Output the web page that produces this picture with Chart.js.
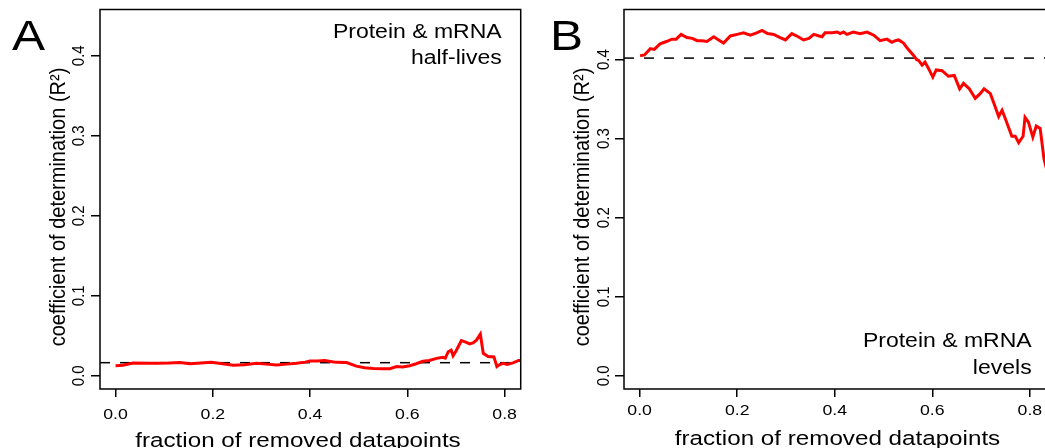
<!DOCTYPE html>
<html>
<head>
<meta charset="utf-8">
<script src="https://cdn.jsdelivr.net/npm/chart.js@4/dist/chart.umd.min.js"></script>
<style>
  html, body { margin: 0; padding: 0; background: #fff; overflow: hidden; width: 1045px; height: 448px; }
  canvas { position: absolute; top: 0; }
  #chartA { left: 0; }
  #chartB { left: 522px; }
</style>
</head>
<body>
<canvas id="chartA" width="522" height="448"></canvas>
<canvas id="chartB" width="528" height="448"></canvas>
<script>
// data
const xTicks = [0, 0.2, 0.4, 0.6, 0.8];
const yTicks = [0, 0.1, 0.2, 0.3, 0.4];

const fracA = [0.000, 0.015, 0.036, 0.060, 0.084, 0.110, 0.132, 0.153, 0.175, 0.197,
  0.220, 0.242, 0.265, 0.290, 0.310, 0.331, 0.352, 0.372, 0.390, 0.400,
  0.415, 0.430, 0.445, 0.454, 0.475, 0.495, 0.512, 0.530, 0.548, 0.564,
  0.578, 0.590, 0.605, 0.618, 0.632, 0.645, 0.660, 0.673, 0.678, 0.684,
  0.690, 0.694, 0.700, 0.711, 0.720, 0.728, 0.735, 0.742, 0.750, 0.753,
  0.756, 0.766, 0.778, 0.784, 0.790, 0.797, 0.805, 0.817, 0.823, 0.828, 0.834];
const r2A = [0.0125, 0.0130, 0.0160, 0.0155, 0.0155, 0.0158, 0.0165, 0.0150, 0.0158, 0.0167,
  0.0150, 0.0130, 0.0138, 0.0155, 0.0145, 0.0135, 0.0145, 0.0155, 0.0170, 0.0183,
  0.0185, 0.0190, 0.0175, 0.0167, 0.0165, 0.0120, 0.0100, 0.0090, 0.0088, 0.0087,
  0.0114, 0.0110, 0.0125, 0.0150, 0.0180, 0.0190, 0.0217, 0.0230, 0.0220, 0.0300,
  0.0320, 0.0250, 0.0310, 0.0438, 0.0420, 0.0398, 0.0410, 0.0445, 0.0520, 0.0400,
  0.0280, 0.0240, 0.0235, 0.0115, 0.0140, 0.0155, 0.0140, 0.0160, 0.0175, 0.0190, 0.0190];
const baseA = 0.0163;

const fracB = [0.001, 0.010, 0.022, 0.030, 0.042, 0.055, 0.066, 0.075, 0.085, 0.097,
  0.108, 0.118, 0.128, 0.138, 0.152, 0.162, 0.172, 0.186, 0.200, 0.213,
  0.227, 0.240, 0.251, 0.262, 0.275, 0.288, 0.299, 0.312, 0.325, 0.336,
  0.347, 0.357, 0.368, 0.374, 0.380, 0.395, 0.405, 0.411, 0.418, 0.425,
  0.438, 0.452, 0.466, 0.480, 0.493, 0.507, 0.517, 0.524, 0.531, 0.541,
  0.548, 0.555, 0.562, 0.568, 0.572, 0.579, 0.585, 0.593, 0.601, 0.608,
  0.620, 0.633, 0.645, 0.656, 0.664, 0.676, 0.688, 0.698, 0.706, 0.719,
  0.729, 0.736, 0.743, 0.751, 0.763, 0.770, 0.777, 0.786, 0.790, 0.797,
  0.806, 0.813, 0.821, 0.829, 0.834];
const r2B = [0.405, 0.406, 0.414, 0.413, 0.420, 0.423, 0.426, 0.426, 0.432, 0.428,
  0.427, 0.424, 0.424, 0.423, 0.429, 0.425, 0.421, 0.430, 0.432, 0.434,
  0.431, 0.434, 0.437, 0.433, 0.432, 0.428, 0.425, 0.433, 0.429, 0.425,
  0.427, 0.432, 0.430, 0.429, 0.434, 0.434, 0.435, 0.433, 0.435, 0.432,
  0.435, 0.433, 0.435, 0.431, 0.424, 0.426, 0.422, 0.424, 0.425, 0.421,
  0.415, 0.410, 0.405, 0.400, 0.399, 0.393, 0.397, 0.388, 0.378, 0.387,
  0.386, 0.379, 0.380, 0.363, 0.370, 0.363, 0.351, 0.357, 0.363, 0.357,
  0.340, 0.328, 0.336, 0.323, 0.303, 0.303, 0.295, 0.303, 0.327, 0.321,
  0.302, 0.316, 0.313, 0.274, 0.262];
const baseB = 0.402;

const X_MIN = -0.032, X_MAX = 0.833;
const SX = 1.18;  // horizontal text is drawn a bit wide, like the picture
const SXR = 1.08; // milder for the rotated y texts
const FONT = '"Liberation Sans", Arial, Helvetica, sans-serif';

function drawText(ctx, str, x, y, size, align, baseline, rotated) {
    ctx.save();
    ctx.translate(x, y);
    ctx.scale(rotated ? SXR : SX, 1);
    if (rotated) ctx.rotate(-Math.PI / 2);
    ctx.font = size + 'px ' + FONT;
    ctx.textAlign = align;
    ctx.textBaseline = baseline;
    ctx.fillStyle = '#000';
    ctx.fillText(str, 0, 0);
    ctx.restore();
}

function makeChart(id, frac, r2, base, yMin, yMax, lay) {
    const boxPlugin = {
        id: 'box',
        afterDatasetsDraw(chart) {
            const a = chart.chartArea;
            const ctx = chart.ctx;
            ctx.save();
            ctx.strokeStyle = '#000';
            ctx.lineWidth = 1.5;
            ctx.strokeRect(a.left, a.top, a.right - a.left, a.bottom - a.top);
            ctx.restore();
        },
        afterDraw(chart) {
            const ctx = chart.ctx;
            const xs = chart.scales.x, ys = chart.scales.y;
            // tick labels
            xTicks.forEach(v => drawText(ctx, v.toFixed(1), xs.getPixelForValue(v), lay.xTickY, 15, 'center', 'alphabetic'));
            yTicks.forEach(v => drawText(ctx, v.toFixed(1), lay.yTickX, ys.getPixelForValue(v), 15, 'center', 'middle', true));
            // axis titles
            drawText(ctx, 'fraction of removed datapoints', lay.xTitleX, lay.xTitleY, 20.5, 'center', 'alphabetic');
            drawText(ctx, 'coefficient of determination (R\u00B2)', lay.yTitleX, 207, 20, 'center', 'middle', true);
            // panel letter and label
            drawText(ctx, lay.letter, lay.letterX, 50, 42, 'left', 'alphabetic');
            drawText(ctx, lay.label[0], lay.labelX, lay.labelY[0], 19.5, 'right', 'alphabetic');
            drawText(ctx, lay.label[1], lay.labelX, lay.labelY[1], 19.5, 'right', 'alphabetic');
        }
    };

    return new Chart(document.getElementById(id), {
        type: 'line',
        data: {
            datasets: [{
                data: frac.map((x, i) => ({ x: x, y: r2[i] })),
                borderColor: '#ff0000',
                borderWidth: 3,
                pointRadius: 0,
                tension: 0
            }, {
                data: [{ x: X_MIN, y: base }, { x: X_MAX, y: base }],
                borderColor: '#000',
                borderWidth: 1.5,
                borderDash: [10, 10],
                pointRadius: 0
            }]
        },
        options: {
            responsive: false,
            animation: false,
            devicePixelRatio: 1,
            layout: { padding: { top: lay.padTop, right: lay.padRight, left: 0, bottom: 0 } },
            plugins: { legend: { display: false }, tooltip: { enabled: false } },
            scales: {
                x: {
                    type: 'linear',
                    min: X_MIN,
                    max: X_MAX,
                    bounds: 'data',
                    afterBuildTicks: s => { s.ticks = xTicks.map(v => ({ value: v })); },
                    afterFit: s => { s.height = lay.xHeight; },
                    ticks: { display: false },
                    border: { display: false },
                    grid: { drawOnChartArea: false, drawTicks: true, tickLength: 8, color: '#000', lineWidth: 1.5 }
                },
                y: {
                    type: 'linear',
                    min: yMin,
                    max: yMax,
                    bounds: 'data',
                    afterBuildTicks: s => { s.ticks = yTicks.map(v => ({ value: v })); },
                    afterFit: s => { s.width = lay.yWidth; },
                    ticks: { display: false },
                    border: { display: false },
                    grid: { drawOnChartArea: false, drawTicks: true, tickLength: 9, color: '#000', lineWidth: 1.5 }
                }
            }
        },
        plugins: [boxPlugin]
    });
}

makeChart('chartA', fracA, r2A, baseA, -0.0166, 0.4578, {
    yWidth: 100, xHeight: 59, padTop: 9.5, padRight: 1.3,
    xTickY: 419, yTickX: 80, xTitleX: 298, xTitleY: 446.5, yTitleX: 59,
    letter: 'A', letterX: 12,
    label: ['Protein & mRNA', 'half-lives'], labelX: 501.7, labelY: [37.7, 64.3]
});

// panel B canvas starts at x = 522
makeChart('chartB', fracB, r2B, baseB, -0.0168, 0.4635, {
    yWidth: 102, xHeight: 59, padTop: 9.5, padRight: 4,
    xTickY: 415, yTickX: 605 - 522, xTitleX: 837.5 - 522, xTitleY: 445, yTitleX: 583.5 - 522,
    letter: 'B', letterX: 550 - 522,
    label: ['Protein & mRNA', 'levels'], labelX: 1031.7 - 522, labelY: [346.7, 374]
});
</script>
</body>
</html>
